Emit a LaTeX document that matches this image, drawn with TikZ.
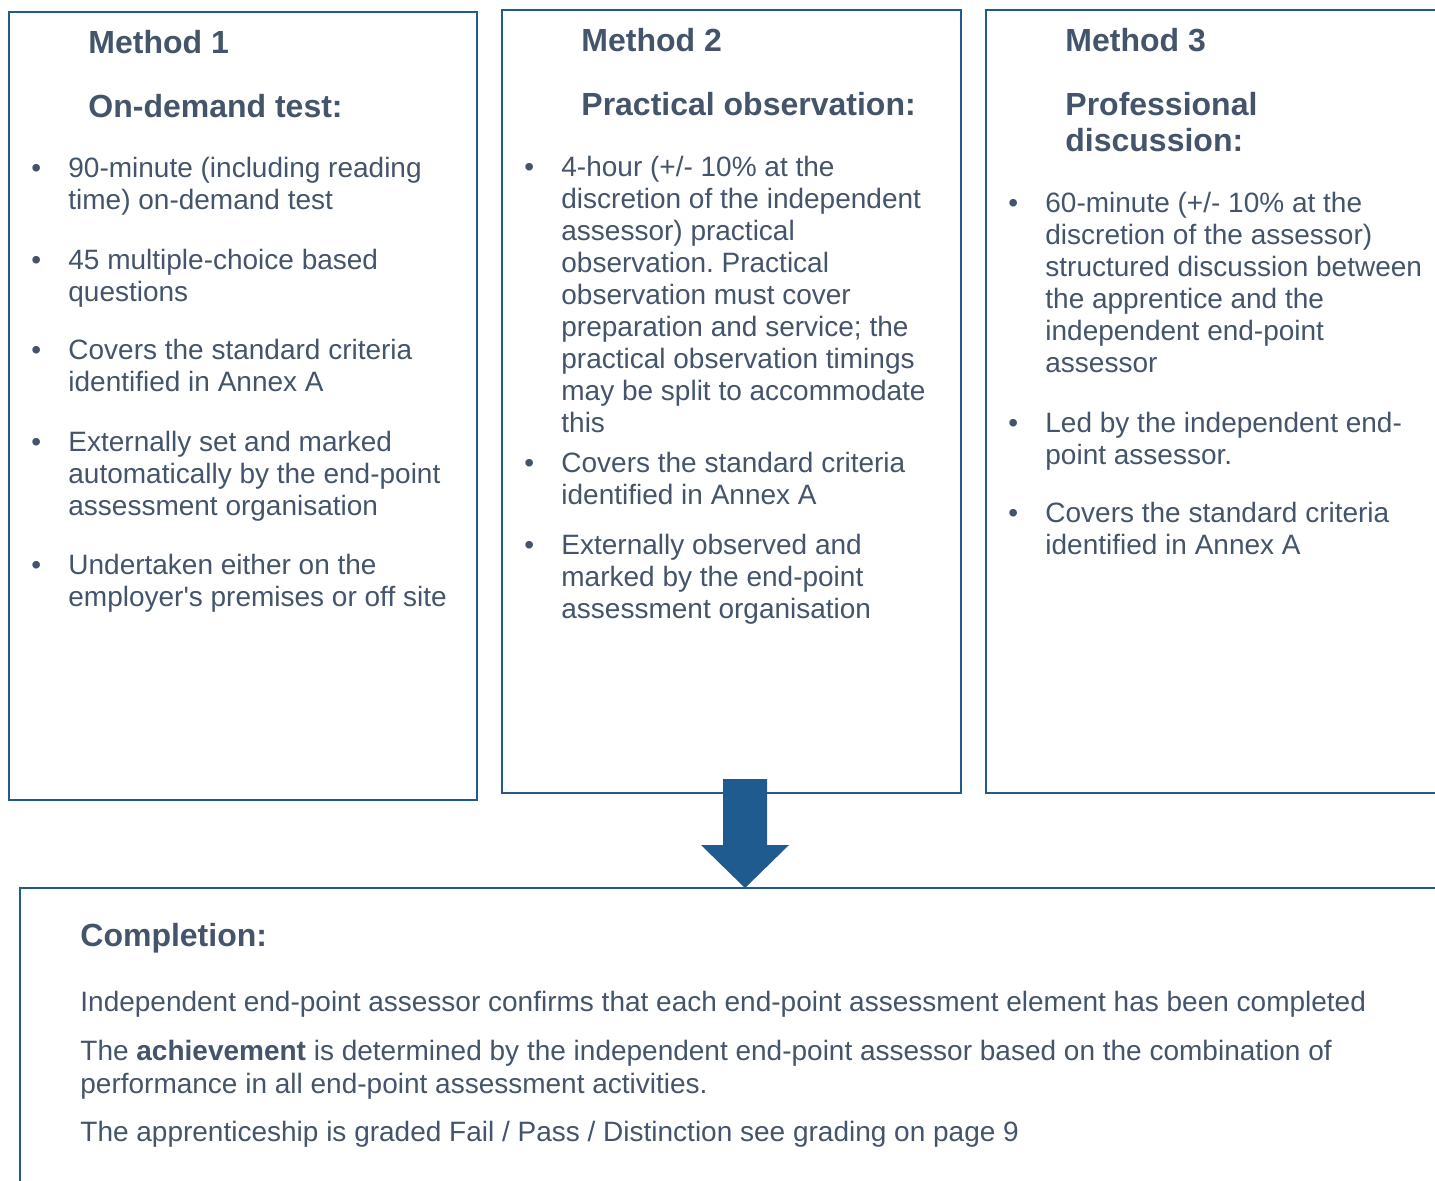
\documentclass[tikz,border=0pt]{standalone}
\usepackage{fontspec}
\setmainfont{Liberation Sans}[Ligatures=TeXOff]
\frenchspacing
\definecolor{txt}{HTML}{44546A}
\definecolor{bord}{HTML}{1F5B8E}
\newcommand{\lns}[1]{\begin{tabular}[t]{@{}l@{}}#1\end{tabular}}
\begin{document}
\begin{tikzpicture}[x=0.5pt,y=-0.5pt,
  boxframe/.style={draw=bord,line width=1.4pt},
  title/.style={anchor=base west,inner sep=0pt,text=txt,font=\fontsize{16}{18}\selectfont\bfseries},
  body/.style={anchor=base west,inner sep=0pt,text=txt,font=\fontsize{14}{16}\selectfont},
  bul/.style={anchor=base west,inner sep=0pt,text=txt,font=\fontsize{14}{16}\selectfont}]
\useasboundingbox (0,0) rectangle (1435,1180);
\clip (0,0) rectangle (1435,1180);
% boxes
\draw[boxframe] (9,12) rectangle (477,800);
\draw[boxframe] (502,10) rectangle (961,793);
\draw[boxframe] (986,10) rectangle (1460,793);
\draw[boxframe] (20,888) rectangle (1460,1210);
% arrow
\fill[bord] (723,779) -- (767,779) -- (767,845) -- (789,845) -- (745,888) -- (701,845) -- (723,845) -- cycle;
% Box 1
\node[title] (t1a) at (88,53) {Method 1};
\node[title] (t1b) at (88,117) {On-demand test:};
\node[bul] (d11) at (31,177) {•};
\node[body] (i11) at (68,177) {\lns{90-minute (including reading\\time) on-demand test}};
\node[bul] (d12) at (31,269) {•};
\node[body] (i12) at (68,269) {\lns{45 multiple-choice based\\questions}};
\node[bul] (d13) at (31,359) {•};
\node[body] (i13) at (68,359) {\lns{Covers the standard criteria\\identified in Annex A}};
\node[bul] (d14) at (31,451) {•};
\node[body] (i14) at (68,451) {\lns{Externally set and marked\\automatically by the end-point\\assessment organisation}};
\node[bul] (d15) at (31,574) {•};
\node[body] (i15) at (68,574) {\lns{Undertaken either on the\\employer's premises or off site}};
% Box 2
\node[title] (t2a) at (581,51) {Method 2};
\node[title] (t2b) at (581,115) {Practical observation:};
\node[bul] (d21) at (524,176) {•};
\node[body] (i21) at (561,176) {\lns{4-hour (+/- 10\% at the\\discretion of the independent\\assessor) practical\\observation. Practical\\observation must cover\\preparation and service; the\\practical observation timings\\may be split to accommodate\\this}};
\node[bul] (d22) at (524,472) {•};
\node[body] (i22) at (561,472) {\lns{Covers the standard criteria\\identified in Annex A}};
\node[bul] (d23) at (524,554) {•};
\node[body] (i23) at (561,554) {\lns{Externally observed and\\marked by the end-point\\assessment organisation}};
% Box 3
\node[title] (t3a) at (1065,51) {Method 3};
\node[title] (t3b) at (1065,115) {\lns{Professional\\discussion:}};
\node[bul] (d31) at (1008,212) {•};
\node[body] (i31) at (1045,212) {\lns{60-minute (+/- 10\% at the\\discretion of the assessor)\\structured discussion between\\the apprentice and the\\independent end-point\\assessor}};
\node[bul] (d32) at (1008,432) {•};
\node[body] (i32) at (1045,432) {\lns{Led by the independent end-\\point assessor.}};
\node[bul] (d33) at (1008,522) {•};
\node[body] (i33) at (1045,522) {\lns{Covers the standard criteria\\identified in Annex A}};
% Bottom
\node[title] (t4) at (80,946) {Completion:};
\node[body] (c1) at (80,1011) {Independent end-point assessor confirms that each end-point assessment element has been completed};
\node[body,font=\fontsize{14}{16.5}\selectfont] (c2) at (80,1060) {\lns{The \textbf{achievement} is determined by the independent end-point assessor based on the combination of\\performance in all end-point assessment activities.}};
\node[body] (c3) at (80,1141) {The apprenticeship is graded Fail / Pass / Distinction see grading on page 9};
\end{tikzpicture}
\end{document}
